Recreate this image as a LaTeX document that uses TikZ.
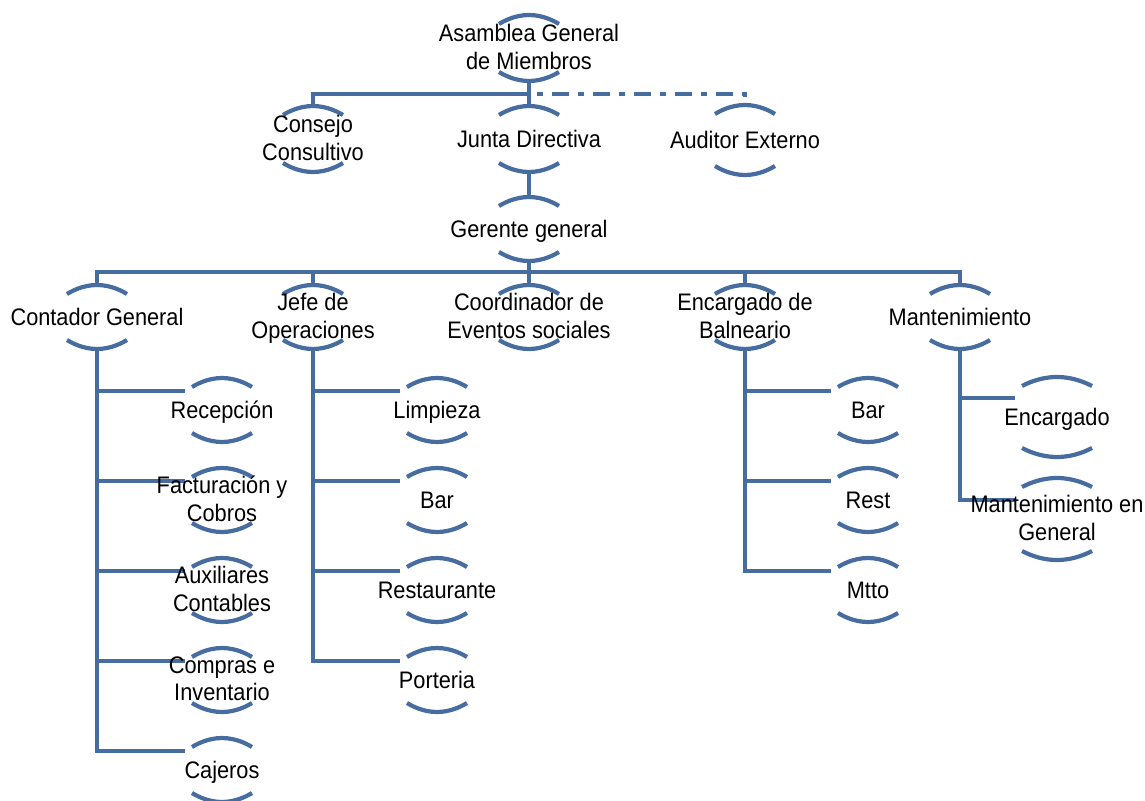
\documentclass[tikz,border=0pt]{standalone}
\usepackage{fontspec}
\setmainfont[FakeStretch=0.91]{Liberation Sans}
\pgfdeclarelayer{bg}
\pgfsetlayers{bg,main}
\definecolor{orgblue}{RGB}{70,108,160}
\tikzset{
  lbl/.style={inner sep=0pt, align=center, yshift=-2.9pt,
    font=\fontsize{23.9}{27.5}\selectfont,
    execute at begin node=\strut, execute at end node=\strut},
  arcline/.style={draw=orgblue, line width=4.2pt},
  conn/.style={draw=orgblue, line width=4.5pt},
  dashdot/.style={conn, dash pattern=on 6pt off 9pt on 17pt off 9pt, dash phase=-8pt}
}
% #1 name, #2 x, #3 y, #4 half width, #5 apex offset, #6 text
\newcommand{\orgnode}[6]{%
  \begin{pgfonlayer}{bg}
    \draw[arcline] (#2-#4,#3-#5+9) parabola bend (#2,#3-#5) (#2+#4,#3-#5+9);
    \draw[arcline] (#2-#4,#3+#5-9) parabola bend (#2,#3+#5) (#2+#4,#3+#5-9);
  \end{pgfonlayer}
  \node[lbl] (#1) at (#2,#3) {#6};
  \coordinate (#1-t) at (#2,#3-#5);
  \coordinate (#1-b) at (#2,#3+#5);
  \coordinate (#1-w) at (#2-#4-7,#3-19);
}
\begin{document}
\begin{tikzpicture}[x=1pt,y=-1pt]
\useasboundingbox (0,0) rectangle (1145,800);
% top levels
\orgnode{asm}{529}{48}{30}{33}{Asamblea General\\de Miembros}
\orgnode{con}{313}{139}{30}{33}{Consejo\\Consultivo}
\orgnode{jun}{529}{139}{30}{33}{Junta Directiva}
\orgnode{aud}{745}{140}{30}{35}{Auditor Externo}
\orgnode{ger}{529}{229}{30}{32}{Gerente general}
% second row
\orgnode{cg}{97}{317}{30}{32}{Contador General}
\orgnode{jo}{313}{317}{30}{32}{Jefe de\\Operaciones}
\orgnode{ces}{529}{317}{30}{32}{Coordinador de\\Eventos sociales}
\orgnode{eb}{745}{317}{30}{32}{Encargado de\\Balneario}
\orgnode{mant}{960}{317}{30}{32}{Mantenimiento}
% Contador subordinates
\orgnode{rec}{222}{410}{30}{32}{Recepción}
\orgnode{fac}{222}{500}{30}{32}{Facturación y\\Cobros}
\orgnode{aux}{222}{590}{30}{32}{Auxiliares\\Contables}
\orgnode{com}{222}{680}{30}{32}{Compras e\\Inventario}
\orgnode{caj}{222}{770}{30}{32}{Cajeros}
% Jefe de Operaciones subordinates
\orgnode{lim}{437}{410}{30}{32}{Limpieza}
\orgnode{bara}{437}{500}{30}{32}{Bar}
\orgnode{res}{437}{590}{30}{32}{Restaurante}
\orgnode{por}{437}{680}{30}{32}{Porteria}
% Balneario subordinates
\orgnode{barb}{868}{410}{30}{32}{Bar}
\orgnode{rest}{868}{500}{30}{32}{Rest}
\orgnode{mtto}{868}{590}{30}{32}{Mtto}
% Mantenimiento subordinates
\orgnode{enc}{1057}{417}{35}{40}{Encargado}
\orgnode{mg}{1057}{519}{35}{41}{Mantenimiento en\\General}
% junctions
\coordinate (j1) at (529,94);
\coordinate (j2) at (529,272);
\begin{pgfonlayer}{bg}
  \draw[conn] (asm-b) -- (jun-t);
  \draw[conn] (con-t) |- (j1);
  \draw[dashdot] (j1) -| (aud-t);
  \draw[conn] (jun-b) -- (ger-t);
  \draw[conn] (ger-b) -- (ces-t);
  \draw[conn] (cg-t) |- (j2) -| (mant-t);
  \draw[conn] (jo-t) |- (j2);
  \draw[conn] (eb-t) |- (j2);
  \draw[conn] (cg-b) |- (rec-w);
  \draw[conn] (cg-b) |- (fac-w);
  \draw[conn] (cg-b) |- (aux-w);
  \draw[conn] (cg-b) |- (com-w);
  \draw[conn] (cg-b) |- (caj-w);
  \draw[conn] (jo-b) |- (lim-w);
  \draw[conn] (jo-b) |- (bara-w);
  \draw[conn] (jo-b) |- (res-w);
  \draw[conn] (jo-b) |- (por-w);
  \draw[conn] (eb-b) |- (barb-w);
  \draw[conn] (eb-b) |- (rest-w);
  \draw[conn] (eb-b) |- (mtto-w);
  \draw[conn] (mant-b) |- (enc-w);
  \draw[conn] (mant-b) |- (mg-w);
\end{pgfonlayer}
\end{tikzpicture}
\end{document}
